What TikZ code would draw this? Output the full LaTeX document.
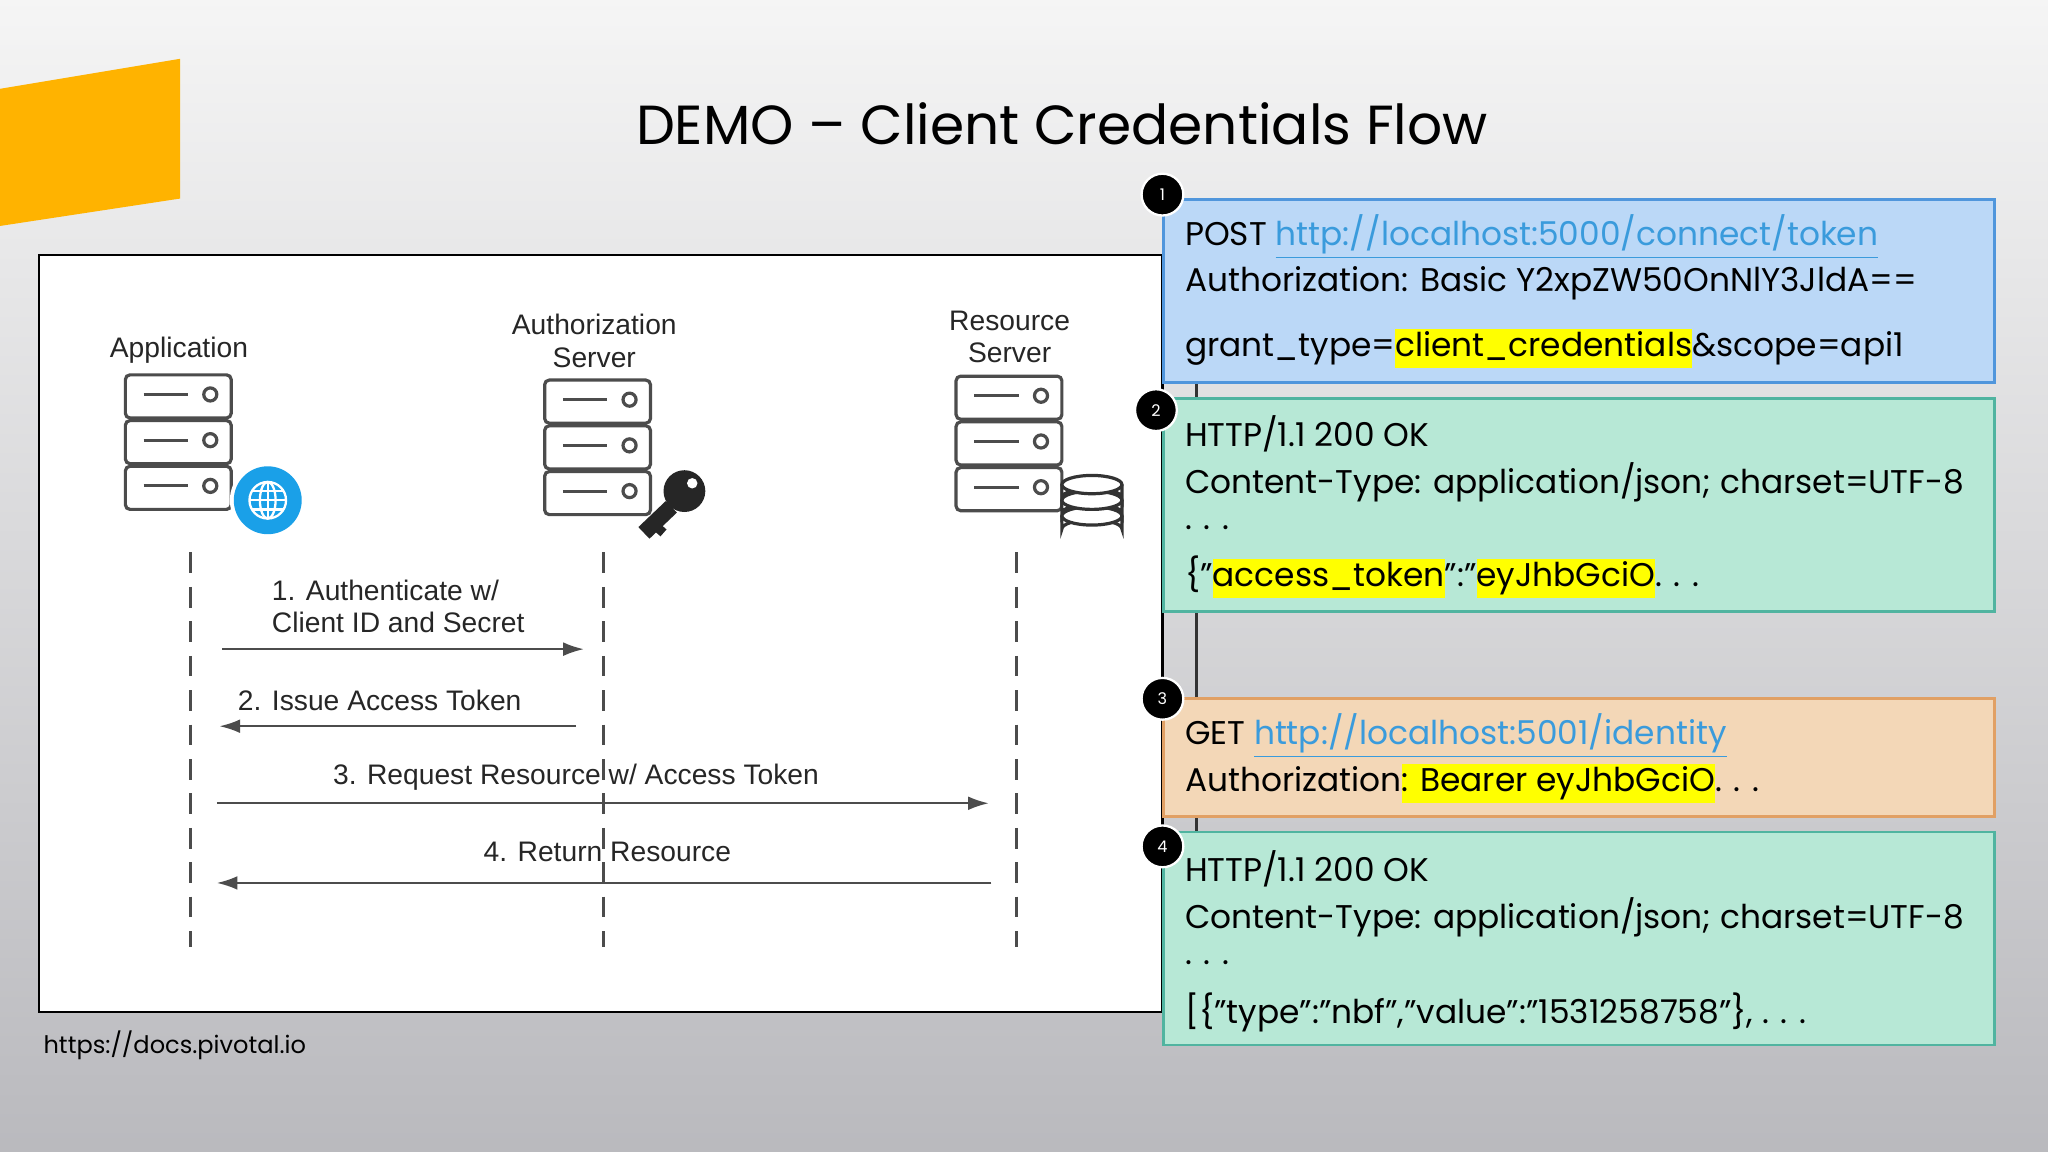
\documentclass[tikz,border=0pt]{standalone}
\usepackage{fontspec}
\setmainfont{Poppins}
\newfontfamily\arial{Liberation Sans}
\usetikzlibrary{arrows.meta}
\definecolor{orng}{HTML}{FFB300}
\definecolor{lnk}{HTML}{3A9BDC}
\definecolor{hl}{HTML}{FFFF00}
\definecolor{globe}{HTML}{1AA0E8}
\newcommand\hlt[1]{{\setlength{\fboxsep}{0pt}\colorbox{hl}{\strut #1}}}
\newcommand\lnkt[1]{\textcolor{lnk}{\underline{#1}}}
\newcommand\srvstack[2]{%
 \foreach \k in {0,1,2}{
  \draw[rounded corners=2, draw=black!70, line width=1.4pt, fill=white]
    (#1,#2+\k*35) rectangle ++(81,33);
  \draw[line width=1.4pt, black!70] (#1+14,#2+\k*35+15) -- ++(34,0);
  \draw[line width=1.4pt, black!70, fill=white] (#1+65,#2+\k*35+15) circle (5);
 }}
\begin{document}
\begin{tikzpicture}[x=0.02cm,y=-0.02cm,
  lbl/.style={font=\arial\fontsize{12.3}{14}\selectfont, text=black!85},
  box/.style={line width=1.2pt},
  bt/.style={anchor=west, inner sep=0, font=\fontsize{14.3}{17}\selectfont},
  num/.style={circle, fill=black, draw=white, line width=1pt, minimum size=0.64cm, inner sep=0, text=white, font=\fontsize{7}{8}\selectfont},
  life/.style={dashed, dash pattern=on 9pt off 6pt, line width=1.2pt, black!70},
  msg/.style={line width=0.9pt, black!70, -{Latex[length=9,width=6]}}]
\useasboundingbox (0,0) rectangle (1568,882);
\shade[top color=white!96!black, bottom color=black!25!blue!3!white!75!black] (0,0) rectangle (1568,882);
\fill[orng] (0,68) -- (138,45) -- (138,152) -- (0,173) -- cycle;
\node (title) at (813,95) {\fontsize{24}{30}\selectfont DEMO -- Client Credentials Flow};
\draw[fill=white, line width=1pt] (30,195) rectangle (890,775);
\node[lbl] (lapp) at (137,268) {Application};
\node[lbl, align=center] (lauth) at (455,261) {Authorization\\Server};
\node[lbl, align=center] (lres) at (773,258) {Resource\\Server};
\srvstack{96}{287}
\srvstack{417}{291}
\srvstack{732}{288}
% globe
\fill[white] (205,383) circle (29);
\fill[globe] (205,383) circle (26);
\begin{scope}[white, line width=1pt]
\draw (205,383) circle (14);
\draw (205,383) ellipse (6 and 14);
\draw (191,383) -- (219,383);
\draw (205,369) -- (205,397);
\draw (193,376) -- (217,376); \draw (193,390) -- (217,390);
\end{scope}
% key
\fill[black!85] (524,376) circle (16);
\fill[white] (530,370) circle (4);
\draw[black!85, line width=7pt] (514,388) -- (493,408);
\draw[black!85, line width=4pt] (500,401) -- (508,408);
% database
\foreach \yy in {395,383,371}{
 \draw[draw=black!80, fill=white, line width=1.4pt] (813,\yy) -- (813,\yy+10) arc[start angle=180,end angle=360,x radius=23,y radius=7] -- (859,\yy) ;
 \draw[draw=black!80, fill=white, line width=1.4pt] (836,\yy) ellipse (23 and 7);
}
% lifelines
\coordinate (a1) at (146,423); \coordinate (a2) at (146,725);
\coordinate (b1) at (462,423); \coordinate (b2) at (462,725);
\coordinate (c1) at (778,423); \coordinate (c2) at (778,725);
\draw[life] (a1) -- (a2); \draw[life] (b1) -- (b2); \draw[life] (c1) -- (c2);
\coordinate (m1s) at (170,497); \coordinate (m1e) at (447,497);
\coordinate (m2s) at (441,556); \coordinate (m2e) at (168,556);
\coordinate (m3s) at (166,615); \coordinate (m3e) at (757,615);
\coordinate (m4s) at (759,676); \coordinate (m4e) at (166,676);
\draw[msg] (m1s) -- (m1e);
\draw[msg] (m2s) -- (m2e);
\draw[msg] (m3s) -- (m3e);
\draw[msg] (m4s) -- (m4e);
\node[lbl, anchor=west, align=left] (l1) at (202,464) {1. Authenticate w/\\Client ID and Secret};
\node[lbl, anchor=west] (l2) at (176,536) {2. Issue Access Token};
\node[lbl] (l3) at (441,595) {3. Request Resource w/ Access Token};
\node[lbl] (l4) at (465,652) {4. Return Resource};
\node[anchor=west, inner sep=0, font=\fontsize{10.5}{12}\selectfont] (src) at (33,800) {https://docs.pivotal.io};
% right side
\draw[line width=1.2pt, black!80] (916,290) -- (916,640);
\draw[box, fill={rgb,255:red,187;green,216;blue,247}, draw={rgb,255:red,80;green,150;blue,220}] (891,153) rectangle (1527,293);
\draw[box, fill={rgb,255:red,183;green,232;blue,214}, draw={rgb,255:red,80;green,180;blue,160}] (891,305) rectangle (1527,468);
\draw[box, fill={rgb,255:red,243;green,215;blue,183}, draw={rgb,255:red,225;green,160;blue,100}] (891,535) rectangle (1527,625);
\draw[box, fill={rgb,255:red,183;green,232;blue,214}, draw={rgb,255:red,80;green,180;blue,160}] (891,637) rectangle (1527,800);
\node[bt] (t11) at (907,181) {POST \lnkt{http://localhost:5000/connect/token}};
\node[bt] (t12) at (907,217) {Authorization: Basic Y2xpZW50OnNlY3JldA==};
\node[bt] (t13) at (907,267) {grant\_type=\hlt{client\_credentials}\&scope=api1};
\node[bt] (t21) at (907,332) {HTTP/1.1 200 OK};
\node[bt] (t22) at (907,369) {Content-Type: application/json; charset=UTF-8};
\node[bt] (t23) at (907,404) {. . .};
\node[bt] (t24) at (907,442) {\{"\hlt{access\_token}":"\hlt{eyJhbGciO}. . .};
\node[bt] (t31) at (907,563) {GET \lnkt{http://localhost:5001/identity}};
\node[bt] (t32) at (907,600) {Authorization\hlt{: Bearer eyJhbGciO}. . .};
\node[bt] (t41) at (907,665) {HTTP/1.1 200 OK};
\node[bt] (t42) at (907,702) {Content-Type: application/json; charset=UTF-8};
\node[bt] (t43) at (907,737) {. . .};
\node[bt] (t44) at (907,775) {[\{"type":"nbf","value":"1531258758"\}, . . .};
\node[num] (n1) at (890,149) {1};
\node[num] (n2) at (885,314) {2};
\node[num] (n3) at (890,535) {3};
\node[num] (n4) at (890,648) {4};
\end{tikzpicture}
\end{document}
